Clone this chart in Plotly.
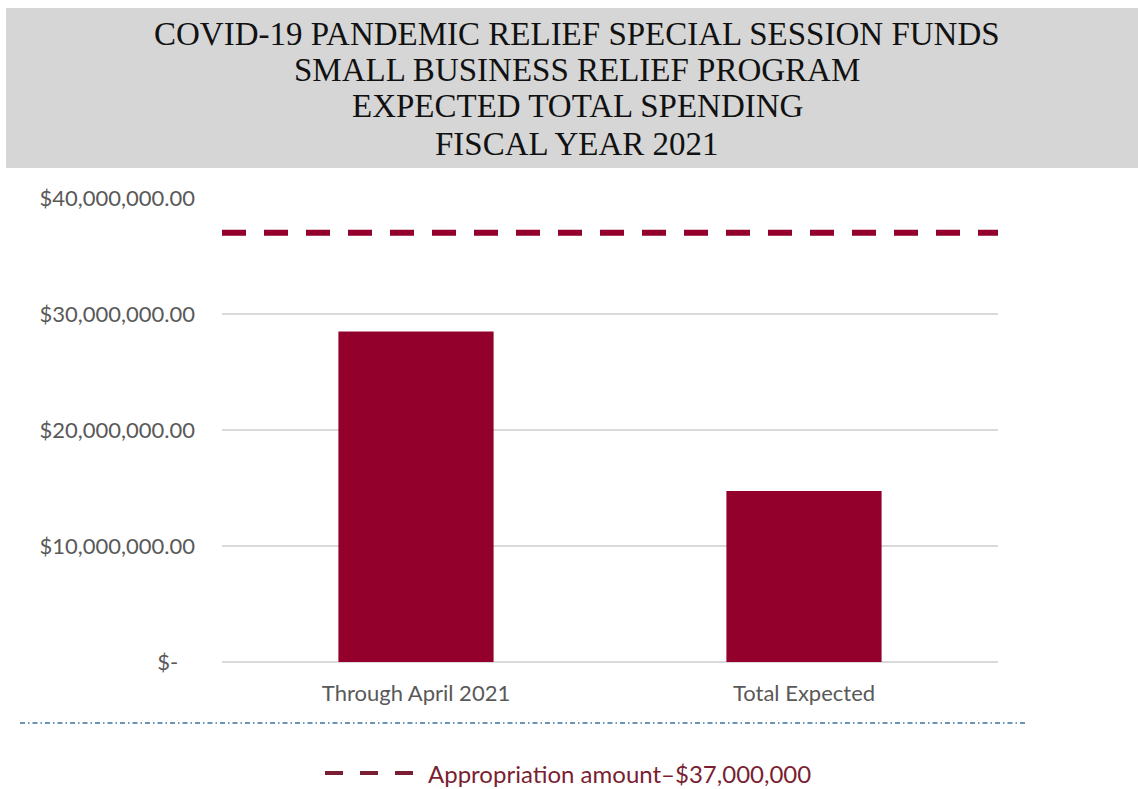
import plotly.graph_objects as go

# Spending data
categories = ["Through April 2021", "Total Expected"]
spending = [28_500_000, 14_750_000]
appropriation = 37_000_000

y_tickvals = [0, 10_000_000, 20_000_000, 30_000_000, 40_000_000]
y_ticktext = ["$-\u00a0\u00a0\u00a0", "$10,000,000.00", "$20,000,000.00",
              "$30,000,000.00", "$40,000,000.00"]

title_lines = [
    "COVID-19 PANDEMIC RELIEF SPECIAL SESSION FUNDS",
    "SMALL BUSINESS RELIEF PROGRAM",
    "EXPECTED TOTAL SPENDING",
    "FISCAL YEAR 2021",
]
legend_label = "Appropriation amount\u2013$37,000,000"

# Page geometry (pixels)
W, H = 1138, 789
L, R, T, B = 222, 998, 198, 662

BAR = "#93002B"
LEGEND_TEXT = "#7A1F33"
AXIS_TEXT = "#595959"
GRID = "#D9D9D9"


def px_x(x):
    return (x - L) / (R - L)


def px_y(y):
    return (B - y) / (B - T)


fig = go.Figure()

fig.add_trace(go.Bar(
    x=categories, y=spending, width=0.4,
    marker=dict(color=BAR, line=dict(width=0)),
    showlegend=False, hoverinfo="x+y",
))

# Appropriation line across the full plot width
fig.add_trace(go.Scatter(
    x=[0, 1], y=[appropriation, appropriation], xaxis="x2", mode="lines",
    line=dict(color=BAR, width=6, dash="24px,18px"),
    name=legend_label, showlegend=False,
))

shapes = [
    # header band
    dict(type="rect", xref="paper", yref="paper",
         x0=px_x(6), x1=px_x(1138), y0=px_y(168), y1=px_y(8),
         fillcolor="#D6D6D6", line=dict(width=0), layer="below"),
    # separator under the chart
    dict(type="line", xref="paper", yref="paper",
         x0=px_x(20), x1=px_x(1028), y0=px_y(723), y1=px_y(723),
         line=dict(color="#3D74A0", width=1.5, dash="5px,3px,1.5px,3px")),
    # legend key
    dict(type="line", xref="paper", yref="paper",
         x0=px_x(325), x1=px_x(413), y0=px_y(773), y1=px_y(773),
         line=dict(color=LEGEND_TEXT, width=4, dash="18px,17px")),
]

annotations = []
for text, yc in zip(title_lines, [34, 70, 106, 144]):
    annotations.append(dict(
        text=text, xref="paper", yref="paper", x=px_x(577), y=px_y(yc),
        xanchor="center", yanchor="middle", showarrow=False,
        font=dict(family="Liberation Serif", size=33, color="#111111"),
    ))
annotations.append(dict(
    text=legend_label, xref="paper", yref="paper", x=px_x(426), y=px_y(773),
    xanchor="left", yanchor="middle", showarrow=False,
    font=dict(family="Lato", size=24, color=LEGEND_TEXT),
))

fig.update_layout(
    width=W, height=H,
    margin=dict(l=L, r=W - R, t=T, b=H - B, pad=0),
    paper_bgcolor="white", plot_bgcolor="white",
    font=dict(family="Lato", size=22, color=AXIS_TEXT),
    xaxis=dict(
        type="category", range=[-0.5, 1.5], showgrid=False, showline=False,
        ticks="", ticklabelstandoff=16, tickfont=dict(size=22, color=AXIS_TEXT),
    ),
    xaxis2=dict(overlaying="x", range=[0, 1], visible=False, anchor="y"),
    yaxis=dict(
        range=[0, 40_000_000], tickvals=y_tickvals, ticktext=y_ticktext,
        showgrid=True, gridcolor=GRID, gridwidth=1.5,
        zeroline=True, zerolinecolor=GRID, zerolinewidth=1.5,
        showline=False, ticks="", ticklabelstandoff=26,
        tickfont=dict(size=22, color=AXIS_TEXT),
    ),
    shapes=shapes, annotations=annotations, showlegend=False,
)

fig.write_html("out.html")
